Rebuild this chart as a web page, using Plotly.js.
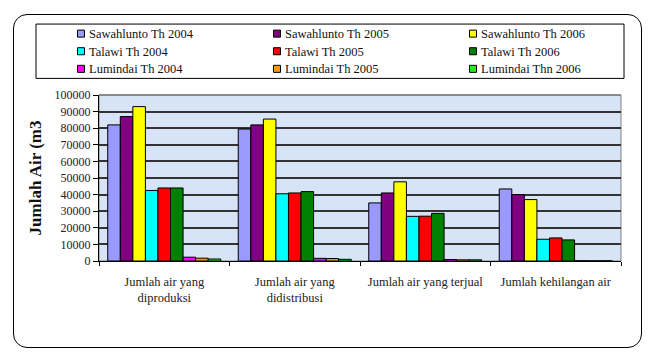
<!DOCTYPE html>
<html>
<head>
<meta charset="utf-8">
<script src="https://cdn.plot.ly/plotly-3.0.1.min.js"></script>
<style>
  html, body { margin: 0; padding: 0; background: #ffffff; }
  #wrap { position: relative; width: 651px; height: 358px; }
  #frame {
    position: absolute; left: 13px; top: 14px; width: 629px; height: 334px;
    border: 1.5px solid #000; border-radius: 14px; box-sizing: border-box;
  }
  #chart { position: absolute; left: 0; top: 0; width: 651px; height: 358px; }
</style>
</head>
<body>
<div id="wrap">
  <div id="frame"></div>
  <div id="chart"></div>
</div>
<script>
// Water indicators (m3) per region and year
const categories = [
  'Jumlah air yang<br>diproduksi',
  'Jumlah air yang<br>didistribusi',
  'Jumlah air yang terjual',
  'Jumlah kehilangan air'
];

const seriesNames = [
  'Sawahlunto Th 2004', 'Sawahlunto Th 2005', 'Sawahlunto Th 2006',
  'Talawi Th 2004', 'Talawi Th 2005', 'Talawi Th 2006',
  'Lumindai Th 2004', 'Lumindai Th 2005', 'Lumindai Thn 2006'
];

const sawahlunto2004 = [82000, 79500, 35000, 43400];
const sawahlunto2005 = [87000, 82000, 41000, 40000];
const sawahlunto2006 = [93000, 85500, 47700, 37000];
const talawi2004     = [42500, 40500, 26900, 13100];
const talawi2005     = [44000, 41000, 27000, 13900];
const talawi2006     = [44000, 41800, 28700, 12700];
const lumindai2004   = [2300, 1600, 900, 150];
const lumindai2005   = [1700, 1500, 700, 100];
const lumindai2006   = [1200, 1000, 700, 100];

const yTicks = [0, 10000, 20000, 30000, 40000, 50000, 60000, 70000, 80000, 90000, 100000];

const seriesValues = [
  sawahlunto2004, sawahlunto2005, sawahlunto2006,
  talawi2004, talawi2005, talawi2006,
  lumindai2004, lumindai2005, lumindai2006
];

const barColors = [
  '#9999ff', '#800080', '#ffff00',
  '#00ffff', '#ff0000', '#008000',
  '#ff00ff', '#ff9900', '#22ee22'
];

const serif = "'Liberation Serif', 'Times New Roman', serif";

// Plot area geometry in page pixels, used to place the boxed key above it
const plotL = 99, plotW = 522, plotB = 260.5, plotH = 165;
const px = x => (x - plotL) / plotW;
const py = y => (plotB - y) / plotH;

const traces = seriesNames.map((name, i) => ({
  type: 'bar',
  name: name,
  x: categories,
  y: seriesValues[i],
  marker: { color: barColors[i], line: { color: '#000', width: 1 } },
  hoverinfo: 'name+y'
}));

// Boxed key: 3 columns x 3 rows, filled row by row in series order
const keyCols = [77.5, 273.5, 469.5];
const keyRows = [34.5, 52, 69.5];
const keyShapes = [{
  type: 'rect', xref: 'paper', yref: 'paper',
  x0: px(36), x1: px(624), y0: py(25), y1: py(79),
  fillcolor: '#ffffff', line: { color: '#000', width: 1 }, layer: 'above'
}];
const keyLabels = [];
seriesNames.forEach((name, i) => {
  const cx = keyCols[i % 3], cy = keyRows[Math.floor(i / 3)];
  keyShapes.push({
    type: 'rect', xref: 'paper', yref: 'paper',
    x0: px(cx), x1: px(cx + 7), y0: py(cy - 3.5), y1: py(cy + 3.5),
    fillcolor: barColors[i], line: { color: '#000', width: 1 }, layer: 'above'
  });
  keyLabels.push({
    xref: 'paper', yref: 'paper',
    x: px(cx + 9), y: py(cy + 0.5),
    xanchor: 'left', yanchor: 'middle',
    text: name, showarrow: false,
    font: { family: serif, size: 12.5, color: '#111' }
  });
});

const layout = {
  width: 651,
  height: 358,
  margin: { l: 99, r: 30, t: 95, b: 97, pad: 0 },
  paper_bgcolor: 'rgba(0,0,0,0)',
  plot_bgcolor: '#d6e4f5',
  barmode: 'group',
  bargap: 0.134,
  bargroupgap: 0,
  font: { family: serif, color: '#222', size: 12 },
  showlegend: false,
  xaxis: {
    type: 'category',
    tickson: 'boundaries',
    ticks: 'outside',
    ticklen: 4,
    tickcolor: '#000',
    ticklabelstandoff: 9,
    tickfont: { family: serif, size: 12.5, color: '#222' },
    showline: true,
    linecolor: '#000',
    linewidth: 1,
    showgrid: false,
    fixedrange: true
  },
  yaxis: {
    range: [0, 100000],
    tickvals: yTicks,
    ticktext: yTicks.map(String),
    ticks: 'outside',
    ticklen: 5,
    tickcolor: '#000',
    tickfont: { family: serif, size: 12, color: '#222' },
    showline: true,
    linecolor: '#000',
    linewidth: 1,
    showgrid: true,
    gridcolor: '#333',
    gridwidth: 2,
    zeroline: false,
    title: {
      text: '<b>Jumlah Air (m3</b>',
      font: { family: serif, size: 17, color: '#111' },
      standoff: 8
    },
    fixedrange: true
  },
  shapes: [
    {
      type: 'rect', xref: 'paper', yref: 'paper',
      x0: 0, x1: 1, y0: 0, y1: 1,
      line: { color: '#808080', width: 1 },
      layer: 'below'
    },
    {
      type: 'line', xref: 'paper', yref: 'paper',
      x0: 0, x1: 1, y0: 1, y1: 1,
      line: { color: '#8a8a8a', width: 2 },
      layer: 'above'
    }
  ].concat(keyShapes),
  annotations: keyLabels
};

Plotly.newPlot('chart', traces, layout, { displayModeBar: false, staticPlot: true });
</script>
</body>
</html>
